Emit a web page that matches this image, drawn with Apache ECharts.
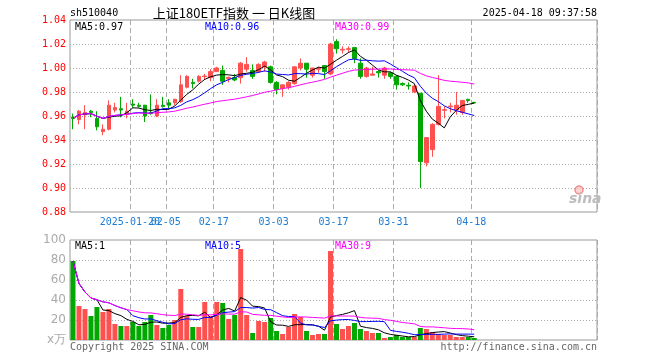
<!DOCTYPE html>
<html><head><meta charset="utf-8">
<script src="https://cdn.jsdelivr.net/npm/echarts@6/dist/echarts.min.js"></script>
<style>html,body{margin:0;padding:0;background:#fff}#c{width:660px;height:360px}</style>
</head><body><div id="c"></div>
<script>
// ---- data ----
const dates = ['2025-01-06','2025-01-07','2025-01-08','2025-01-09','2025-01-10','2025-01-13','2025-01-14','2025-01-15','2025-01-16','2025-01-17',
'2025-01-20','2025-01-21','2025-01-22','2025-01-23','2025-01-24','2025-01-27','2025-02-05','2025-02-06','2025-02-07','2025-02-10',
'2025-02-11','2025-02-12','2025-02-13','2025-02-14','2025-02-17','2025-02-18','2025-02-19','2025-02-20','2025-02-21','2025-02-24',
'2025-02-25','2025-02-26','2025-02-27','2025-02-28','2025-03-03','2025-03-04','2025-03-05','2025-03-06','2025-03-07','2025-03-10',
'2025-03-11','2025-03-12','2025-03-13','2025-03-14','2025-03-17','2025-03-18','2025-03-19','2025-03-20','2025-03-21','2025-03-24',
'2025-03-25','2025-03-26','2025-03-27','2025-03-28','2025-03-31','2025-04-01','2025-04-02','2025-04-03','2025-04-07','2025-04-08',
'2025-04-09','2025-04-10','2025-04-11','2025-04-14','2025-04-15','2025-04-16','2025-04-17','2025-04-18'];
const open = [0.959,0.957,0.961,0.964,0.958,0.947,0.949,0.965,0.966,0.962,
0.970,0.969,0.969,0.963,0.960,0.969,0.971,0.971,0.972,0.984,
0.988,0.989,0.9928,0.992,0.997,0.998,0.991,0.992,0.992,0.999,
0.998,0.997,1.001,1.001,0.988,0.983,0.984,0.987,1.000,1.004,
0.994,0.999,1.002,0.995,1.022,1.015,1.0156,1.017,1.004,0.993,
0.994,0.997,0.994,0.996,0.993,0.987,0.9856,0.980,0.979,0.921,
0.932,0.953,0.9647,0.9678,0.965,0.963,0.9739,0.9714];
const close = [0.958,0.964,0.963,0.963,0.951,0.949,0.969,0.967,0.965,0.964,
0.969,0.968,0.960,0.962,0.969,0.968,0.969,0.974,0.986,0.993,
0.987,0.993,0.9933,0.997,1.000,0.989,0.992,0.990,1.004,1.003,
0.993,1.003,1.005,0.988,0.982,0.986,0.988,1.001,1.004,0.999,
1.000,0.9996,0.997,1.020,1.016,1.0156,1.0161,1.008,0.993,1.000,
0.995,0.996,1.000,0.993,0.986,0.986,0.985,0.985,0.922,0.942,
0.953,0.968,0.9653,0.9683,0.969,0.973,0.9728,0.9708];
const high = [0.962,0.965,0.969,0.965,0.964,0.953,0.973,0.971,0.976,0.971,
0.974,0.971,0.969,0.978,0.974,0.976,0.974,0.974,0.994,0.994,
0.991,0.994,0.995,0.999,1.001,1.002,0.993,0.995,1.005,1.009,
1.003,1.004,1.006,1.002,0.989,0.986,0.989,1.001,1.008,1.004,
1.000,1.001,1.002,1.021,1.024,1.018,1.018,1.017,1.008,1.001,
1.001,0.998,1.001,0.997,0.994,0.988,0.988,0.986,0.979,0.942,
0.954,0.994,0.968,0.971,0.980,0.973,0.9744,0.9717];
const low = [0.949,0.953,0.949,0.959,0.948,0.944,0.948,0.963,0.959,0.958,
0.967,0.967,0.955,0.961,0.959,0.967,0.966,0.969,0.971,0.983,
0.983,0.988,0.990,0.989,0.997,0.986,0.988,0.989,0.987,0.997,
0.991,0.996,0.997,0.987,0.978,0.976,0.982,0.986,0.998,0.992,
0.992,0.996,0.991,0.994,1.012,1.012,1.013,1.004,0.991,0.992,
0.994,0.992,0.991,0.991,0.982,0.985,0.982,0.979,0.900,0.918,
0.926,0.952,0.958,0.963,0.961,0.961,0.971,0.9706];
const volume = [79,34,31,24,33,28,31,16,14,14,
18,14,18,25,15,12,15,20,51,24,
13,13,38,24,38,37,21,25,91,25,
7,19,18,22,9,6,13,26,23,9,
5,6,6,89,16,11,14,17,11,9,
7,7,2,3,5,3,3,3,12,11,
8,6,5,5,3,3,3,2];
const tickDates = ['2025-01-20','2025-02-05','2025-02-17','2025-03-03','2025-03-17','2025-03-31','2025-04-18'];
const tickTexts = ['2025-01-20','02-05','02-17','03-03','03-17','03-31','04-18'];
const priceTicks = {min: 0.88, max: 1.04, step: 0.02};
const volTicks = {min: 0, max: 100, step: 20};
const maLabelsPrice = ['MA5:0.97','MA10:0.96','MA30:0.99'];
const maLabelsVol = ['MA5:1','MA10:5','MA30:9'];

// ---- build ----
const SLOTS = 88;
const cats = dates.concat(Array.from({length: SLOTS - dates.length}, (_, i) => 'pad' + i));
function ma(values, n) {
  return values.map((v, i) => {
    const s = values.slice(Math.max(0, i - n + 1), i + 1);
    return +(s.reduce((a, b) => a + b, 0) / s.length).toFixed(4);
  });
}
const RED = '#ff5050', GREEN = '#00a800';
const MONO = 'DejaVu Sans Mono';
const tickIdx = (i) => tickDates.indexOf(cats[i]);
const isTick = (i) => tickIdx(i) >= 0;
const candles = dates.map((d, i) => [open[i], close[i], low[i], high[i]]);
const volBars = volume.map((v, i) => ({value: v, itemStyle: {color: close[i] >= open[i] ? RED : GREEN}}));

function xAxisCfg(gi, labelFilter, showSplit) {
  return {
    type: 'category', gridIndex: gi, data: cats, boundaryGap: true, position: 'bottom',
    axisLine: {show: false},
    axisTick: {show: false, interval: (i) => isTick(i)},
    axisLabel: {show: !!labelFilter, interval: (i) => !!labelFilter && labelFilter(i), hideOverlap: false,
      formatter: (v) => tickTexts[tickDates.indexOf(v)] || '',
      color: '#1c7cd5', fontFamily: MONO, fontSize: 10, margin: 5, padding: [0, 6, 0, 0]},
    splitLine: {show: showSplit, interval: (i) => isTick(i), lineStyle: {color: '#aaa', type: [5, 3], width: 1}}
  };
}
function lineS(name, data, color, xi, yi) {
  return {name, type: 'line', xAxisIndex: xi, yAxisIndex: yi, data, symbol: 'none',
    lineStyle: {color, width: 1}, itemStyle: {color}, silent: true, z: 3};
}
function txt(x, y, text, color, opt) {
  return {type: 'text', x, y, z: 10, style: Object.assign({text, fill: color,
    font: '10px "' + MONO + '"', textVerticalAlign: 'middle', textAlign: 'left'}, opt || {})};
}

const chart = echarts.init(document.getElementById('c'), null, {renderer: 'canvas'});
chart.setOption({
  animation: false,
  backgroundColor: '#fff',
  grid: [
    {left: 70, top: 20, width: 527, height: 192, show: true, borderColor: '#999', borderWidth: 1, outerBoundsMode: 'none'},
    {left: 70, top: 240, width: 527, height: 100, show: true, borderColor: '#999', borderWidth: 1, outerBoundsMode: 'none'}
  ],
  xAxis: [
    xAxisCfg(0, (i) => isTick(i) && tickIdx(i) > 0, true),
    xAxisCfg(1, null, true),
    xAxisCfg(0, (i) => tickIdx(i) === 0, false)
  ],
  yAxis: [
    {type: 'value', gridIndex: 0, min: priceTicks.min, max: priceTicks.max, interval: priceTicks.step,
      axisLine: {show: false}, axisTick: {show: false},
      axisLabel: {color: '#ff0000', fontFamily: MONO, fontSize: 10, margin: 4, formatter: (v) => v.toFixed(2)},
      splitLine: {show: true, showMinLine: false, showMaxLine: false, lineStyle: {color: '#aaa', type: [1, 2]}}},
    {type: 'value', gridIndex: 1, min: volTicks.min, max: volTicks.max, interval: volTicks.step,
      axisLine: {show: false}, axisTick: {show: false},
      axisLabel: {color: '#aaa', fontFamily: 'DejaVu Sans', fontSize: 12, margin: 4,
        formatter: (v) => v === 0 ? 'x万' : String(v)},
      splitLine: {show: true, showMinLine: false, showMaxLine: false, lineStyle: {color: '#aaa', type: [1, 2]}}}
  ],
  series: [
    {type: 'candlestick', xAxisIndex: 0, yAxisIndex: 0, data: candles, barWidth: 4,
      itemStyle: {color: RED, color0: GREEN, borderColor: RED, borderColor0: GREEN, borderWidth: 1}, silent: true, z: 2},
    lineS('MA5', ma(close, 5), '#000000', 0, 0),
    lineS('MA10', ma(close, 10), '#0000ff', 0, 0),
    lineS('MA30', ma(close, 30), '#ff00ff', 0, 0),
    {type: 'bar', xAxisIndex: 1, yAxisIndex: 1, data: volBars, barWidth: 5, silent: true, z: 2},
    lineS('VMA5', ma(volume, 5), '#000000', 1, 1),
    lineS('VMA10', ma(volume, 10), '#0000ff', 1, 1),
    lineS('VMA30', ma(volume, 30), '#ff00ff', 1, 1)
  ],
  graphic: [
    txt(70, 13, 'sh510040', '#000'),
    txt(234, 13, '上证180ETF指数 一 日K线图', '#000', {font: '13px "Noto Sans CJK SC"', textAlign: 'center'}),
    txt(597, 13, '2025-04-18 09:37:58', '#000', {textAlign: 'right'}),
    txt(75, 27, maLabelsPrice[0], '#000'),
    txt(205, 27, maLabelsPrice[1], '#0000ff'),
    txt(335, 27, maLabelsPrice[2], '#ff00ff'),
    txt(75, 246, maLabelsVol[0], '#000'),
    txt(205, 246, maLabelsVol[1], '#0000ff'),
    txt(335, 246, maLabelsVol[2], '#ff00ff'),
    txt(70, 347, 'Copyright 2025 SINA.COM', '#666'),
    txt(597, 347, 'http://finance.sina.com.cn', '#666', {textAlign: 'right'}),
    {type: 'circle', z: 1, shape: {cx: 579, cy: 190, r: 4}, style: {fill: 'rgba(255,190,190,0.7)', stroke: 'rgba(235,120,120,0.8)', lineWidth: 1.5}},
    txt(569, 199, 'sina', '#bdbdbd', {font: 'italic bold 14px "DejaVu Sans"'})
  ]
});
</script></body></html>
